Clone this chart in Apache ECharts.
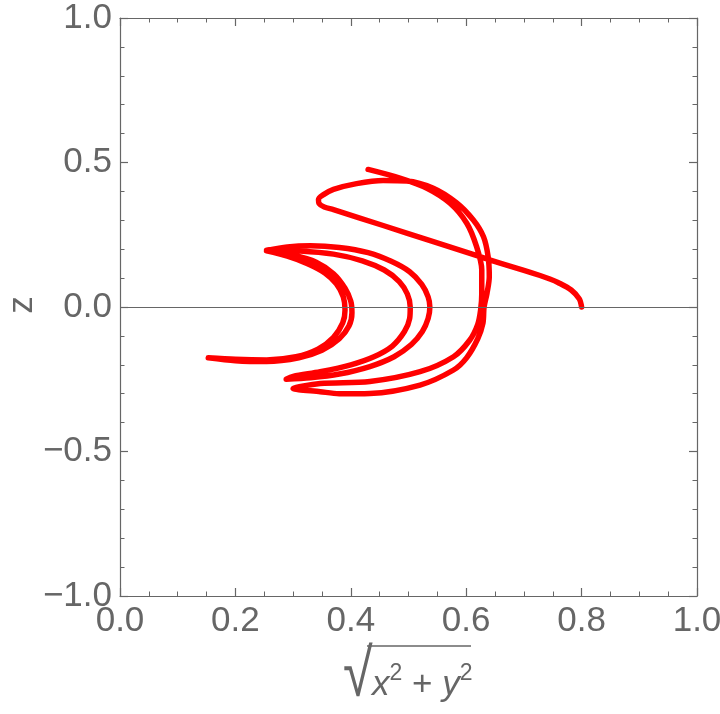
<!DOCTYPE html>
<html>
<head>
<meta charset="utf-8">
<script src="https://cdn.jsdelivr.net/npm/echarts@6/dist/echarts.min.js"></script>
<style>
  html, body { margin: 0; padding: 0; background: #fff; }
  #chart { width: 720px; height: 714px; }
</style>
</head>
<body>
<div id="chart"></div>
<script>
// outer trajectory: start at (0.8, 0), loop at top, down the right side, back up to the top end
const outerRho = [0.800, 0.796, 0.782, 0.759, 0.745, 0.728, 0.700, 0.660, 0.624, 0.543, 0.456, 0.370, 0.354, 0.345, 0.344, 0.352, 0.370, 0.410, 0.456, 0.497, 0.543, 0.583, 0.612, 0.630, 0.638, 0.640, 0.636, 0.631, 0.629, 0.620, 0.601, 0.578, 0.520, 0.433, 0.380, 0.347, 0.300, 0.347, 0.433, 0.520, 0.578, 0.606, 0.620, 0.625, 0.627, 0.627, 0.618, 0.601, 0.572, 0.532, 0.485, 0.430]
const outerZ = [0.000, 0.028, 0.059, 0.085, 0.097, 0.109, 0.127, 0.151, 0.174, 0.226, 0.282, 0.337, 0.346, 0.358, 0.372, 0.388, 0.407, 0.427, 0.438, 0.436, 0.411, 0.361, 0.302, 0.243, 0.174, 0.105, 0.047, 0.000, -0.056, -0.110, -0.175, -0.218, -0.270, -0.299, -0.300, -0.293, -0.282, -0.265, -0.258, -0.224, -0.172, -0.115, -0.060, -0.010, 0.047, 0.128, 0.209, 0.290, 0.359, 0.411, 0.446, 0.476]

// inner arcs between the cusps on the left
const innerRho = [0.254, 0.290, 0.330, 0.380, 0.430, 0.470, 0.502, 0.523, 0.534, 0.537, 0.534, 0.524, 0.505, 0.475, 0.433, 0.380, 0.330, 0.288,
  0.300, 0.347, 0.400, 0.440, 0.472, 0.493, 0.502, 0.503, 0.498, 0.484, 0.458, 0.420, 0.370, 0.312, 0.254,
  0.300, 0.340, 0.370, 0.390, 0.400, 0.402, 0.397, 0.380, 0.350, 0.310, 0.254, 0.200, 0.153,
  0.200, 0.254, 0.305, 0.343, 0.370, 0.386, 0.390, 0.387, 0.375, 0.355, 0.325, 0.290, 0.254]
const innerZ = [0.196, 0.208, 0.212, 0.206, 0.188, 0.158, 0.122, 0.078, 0.035, 0.000, -0.040, -0.085, -0.130, -0.172, -0.206, -0.232, -0.245, -0.250,
  -0.240, -0.224, -0.200, -0.172, -0.135, -0.085, -0.040, 0.000, 0.045, 0.088, 0.128, 0.160, 0.183, 0.194, 0.196,
  0.180, 0.155, 0.115, 0.065, 0.020, -0.020, -0.065, -0.110, -0.150, -0.176, -0.189, -0.186, -0.176,
  -0.181, -0.183, -0.172, -0.146, -0.105, -0.055, -0.010, 0.035, 0.080, 0.118, 0.150, 0.176, 0.194]

const xTicks = [0, 0.2, 0.4, 0.6, 0.8, 1]
const yTicks = [-1, -0.5, 0, 0.5, 1]

const axisGray = '#666666'
const labelFont = 'Liberation Sans, Arial, sans-serif'

function zip(a, b) {
  return a.map((v, i) => [v, b[i]])
}

function fmt(v) {
  const s = Math.abs(v).toFixed(1)
  return v < 0 ? '\u2212' + s : s
}

const chart = echarts.init(document.getElementById('chart'))

function frameAxis(extra, minorSplit) {
  return Object.assign({
    type: 'value',
    axisLine: { show: true, onZero: false, lineStyle: { color: axisGray, width: 1.2 } },
    axisTick: { show: true, inside: true, length: 8, lineStyle: { color: axisGray, width: 1.2 } },
    minorTick: { show: true, splitNumber: minorSplit, length: 4.5, lineStyle: { color: axisGray, width: 1 } },
    splitLine: { show: false },
    minorSplitLine: { show: false }
  }, extra)
}

chart.setOption({
  animation: false,
  backgroundColor: '#fff',
  grid: { left: 120, right: 23, top: 18, bottom: 118, containLabel: false, outerBoundsMode: 'none' },
  xAxis: [
    frameAxis({
      position: 'bottom', min: xTicks[0], max: xTicks[xTicks.length - 1], interval: 0.2,
      axisLabel: { color: axisGray, fontSize: 35, fontFamily: labelFont, margin: 8, formatter: fmt }
    }, 4),
    frameAxis({
      position: 'top', min: xTicks[0], max: xTicks[xTicks.length - 1], interval: 0.2,
      axisLabel: { show: false }
    }, 4)
  ],
  yAxis: [
    frameAxis({
      position: 'left', min: yTicks[0], max: yTicks[yTicks.length - 1], interval: 0.5,
      axisLabel: { color: axisGray, fontSize: 35, fontFamily: labelFont, margin: 8, formatter: fmt }
    }, 5),
    frameAxis({
      position: 'right', min: yTicks[0], max: yTicks[yTicks.length - 1], interval: 0.5,
      axisLabel: { show: false }
    }, 5)
  ],
  graphic: [
    // y axis title, rotated like the reference
    {
      type: 'text', x: 22, y: 305, rotation: Math.PI / 2,
      style: { text: 'z', fill: axisGray, fontSize: 35, fontFamily: labelFont, align: 'center', verticalAlign: 'middle' }
    },
    {
      type: 'text', left: 343, top: 644, scaleY: 1.25,
      style: { text: '\u221A', fill: axisGray, fontSize: 54, fontFamily: 'Liberation Sans' }
    },
    {
      type: 'text', left: 372, top: 662,
      style: {
        text: '{i|x}{s|2}{p| + }{i|y}{s|2}',
        fill: axisGray,
        rich: {
          i: { fontSize: 35, fontStyle: 'italic', fontFamily: labelFont, fill: axisGray },
          s: { fontSize: 23, fontFamily: labelFont, fill: axisGray, verticalAlign: 'top', padding: [0, 0, 24, 0] },
          p: { fontSize: 35, fontFamily: labelFont, fill: axisGray }
        }
      }
    },
    {
      type: 'line',
      shape: { x1: 367, y1: 646, x2: 471, y2: 646 },
      style: { stroke: axisGray, lineWidth: 1.6 }
    }
  ],
  series: [
    {
      type: 'line',
      data: zip(outerRho, outerZ),
      smooth: 0.3,
      showSymbol: false,
      lineStyle: { color: '#ff0000', width: 5.5, cap: 'round', join: 'round' },
      markLine: {
        silent: true,
        symbol: 'none',
        label: { show: false },
        lineStyle: { color: '#666', width: 1, type: 'solid' },
        data: [{ yAxis: 0 }]
      }
    },
    {
      type: 'line',
      data: zip(innerRho, innerZ),
      smooth: 0.3,
      showSymbol: false,
      lineStyle: { color: '#ff0000', width: 5.5, cap: 'round', join: 'round' }
    }
  ]
})
</script>
</body>
</html>
